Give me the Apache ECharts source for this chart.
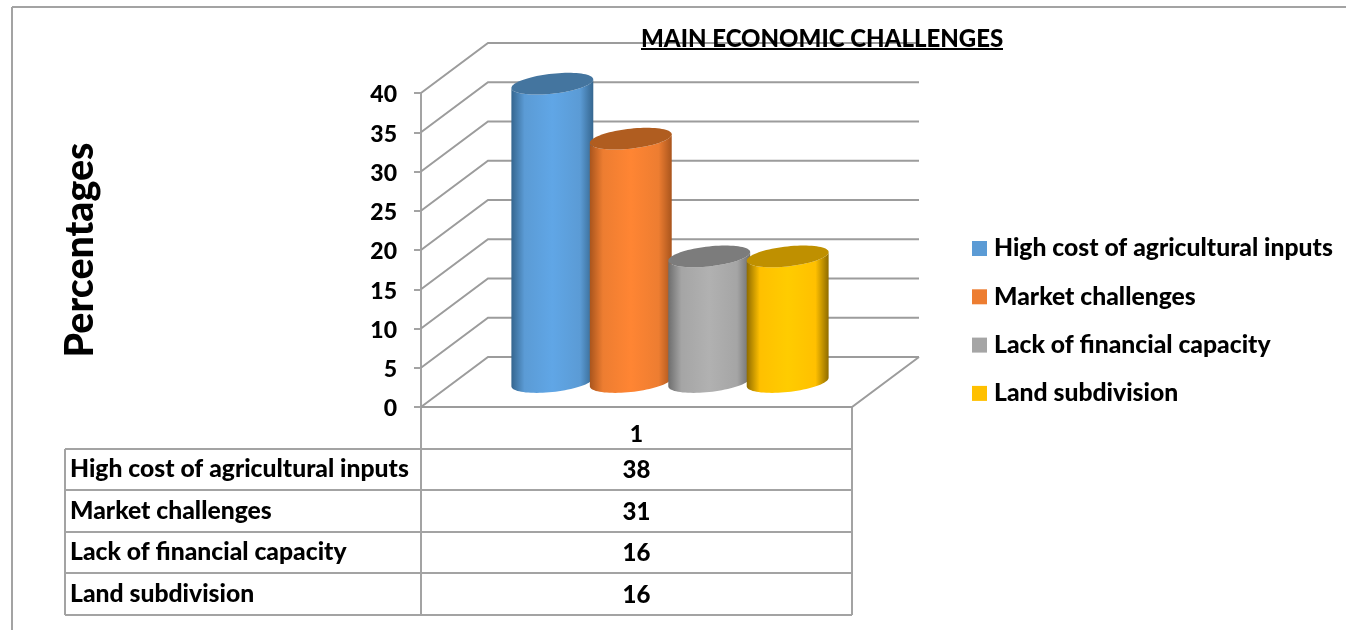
<!DOCTYPE html>
<html>
<head>
<meta charset="utf-8">
<style>html,body{margin:0;padding:0;background:#fff}#main{width:1346px;height:630px}</style>
<script src="https://cdn.jsdelivr.net/npm/echarts@6/dist/echarts.min.js"></script>
</head>
<body>
<div id="main"></div>
<script>
var categories = ['1'];
var seriesNames = ['High cost of agricultural inputs', 'Market challenges', 'Lack of financial capacity', 'Land subdivision'];
var seriesValues = [38, 31, 16, 16];
var yTicks = [0, 5, 10, 15, 20, 25, 30, 35, 40];

var fontName = 'Lato';
var heavy = 900;
var lineColor = '#a3a3a3';
var wallColor = '#9c9c9c';
var depthX = 67, depthY = 50; // 3d depth of the box, px
// legend colour, then edge / middle / cap shades of each cylinder
var shades = [
  ['#5b9bd5', '#35668f', '#60a6e6', '#44759f'],
  ['#ed7d31', '#a9551d', '#ff8533', '#b05d20'],
  ['#a5a5a5', '#6e6e6e', '#b1b1b1', '#7c7c7c'],
  ['#ffc000', '#8f6c00', '#ffcc00', '#bf9000']
];

var chart = echarts.init(document.getElementById('main'));

// back walls and floor
function renderWalls(params, api) {
  var sys = params.coordSys;
  var p = api.coord([0, api.value(1)]);
  var x0 = sys.x, x1 = sys.x + sys.width, y = p[1];
  var kids = [{
    type: 'polyline',
    shape: { points: [[x0, y], [x0 + depthX, y - depthY], [x1 + depthX, y - depthY]] },
    style: { fill: null, stroke: wallColor, lineWidth: 2 }
  }];
  if (api.value(1) === 0) {
    kids.push({
      type: 'polyline',
      shape: { points: [[x1 + depthX, y - depthY], [x1, y], [x0, y]] },
      style: { fill: null, stroke: wallColor, lineWidth: 2 }
    });
  }
  return { type: 'group', children: kids };
}

function cylinder(idx) {
  return function (params, api) {
    var band = api.size([1, 0])[0];
    var step = band * 0.182;
    var a = step * 0.522, b = 10, k = 4.3;
    var top = api.coord([0, api.value(1)]);
    var base = api.coord([0, 0]);
    var cx = top[0] + (idx - 1.5) * step + depthX / 2;
    var yTop = top[1] - depthY / 2, yBase = base[1] - depthY / 2;
    var body = [], cap = [], i, t;
    for (i = 0; i <= 40; i++) {
      t = Math.PI * i / 40;
      body.push([cx + a * Math.cos(t), yBase + b * Math.sin(t) - k * Math.cos(t)]);
    }
    for (i = 40; i >= 0; i--) {
      t = Math.PI * i / 40;
      body.push([cx + a * Math.cos(t), yTop + b * Math.sin(t) - k * Math.cos(t)]);
    }
    for (i = 0; i < 80; i++) {
      t = Math.PI * i / 40;
      cap.push([cx + a * Math.cos(t), yTop + b * Math.sin(t) - k * Math.cos(t)]);
    }
    var s = shades[idx];
    return {
      type: 'group',
      children: [{
        type: 'polygon',
        shape: { points: body },
        style: {
          fill: new echarts.graphic.LinearGradient(0, 0, 1, 0, [
            { offset: 0, color: s[1] },
            { offset: 0.16, color: s[0] },
            { offset: 0.5, color: s[2] },
            { offset: 0.84, color: s[0] },
            { offset: 1, color: s[1] }
          ])
        }
      }, {
        type: 'polygon',
        shape: { points: cap },
        style: { fill: s[3] }
      }]
    };
  };
}

var series = [{
  name: 'walls',
  type: 'custom',
  silent: true,
  renderItem: renderWalls,
  data: yTicks.map(function (v) { return [0, v]; })
}];
seriesNames.forEach(function (name, i) {
  series.push({
    name: name,
    type: 'custom',
    renderItem: cylinder(i),
    itemStyle: { color: shades[i][0] },
    data: [[0, seriesValues[i]]]
  });
});

// data table and page frame under the plot
var tableLeft = 65, tableMid = 421, tableRight = 852, plotBottom = 407;
var rowTops = [449, 490, 532, 573, 615];
var gfx = [];
function hLine(x1, x2, y, w) {
  gfx.push({ type: 'line', shape: { x1: x1, y1: y, x2: x2, y2: y }, style: { stroke: lineColor, lineWidth: w || 2 } });
}
function vLine(x, y1, y2, w) {
  gfx.push({ type: 'line', shape: { x1: x, y1: y1, x2: x, y2: y2 }, style: { stroke: lineColor, lineWidth: w || 2 } });
}
rowTops.forEach(function (y) { hLine(tableLeft, tableRight, y); });
vLine(tableLeft, rowTops[0], rowTops[4]);
vLine(tableMid, plotBottom, rowTops[4]);
vLine(tableRight, plotBottom, rowTops[4]);
seriesNames.forEach(function (name, i) {
  var yc = (rowTops[i] + rowTops[i + 1]) / 2;
  gfx.push({
    type: 'text', x: 70, y: yc,
    style: { text: name, font: heavy + ' 24.7px ' + fontName, fill: '#000', verticalAlign: 'middle' }
  });
  gfx.push({
    type: 'text', x: (tableMid + tableRight) / 2, y: yc + 1,
    style: { text: String(seriesValues[i]), font: heavy + ' 24px ' + fontName, fill: '#000', align: 'center', verticalAlign: 'middle' }
  });
});
hLine(12, 1346, 7);
vLine(12, 7, 630);
gfx.push({ type: 'rect', shape: { x: 641, y: 48, width: 362, height: 2 }, style: { fill: '#000' }, z: 20 });

chart.setOption({
  animation: false,
  title: {
    text: 'MAIN ECONOMIC CHALLENGES',
    left: 641,
    top: 27,
    padding: 0,
    textStyle: { fontFamily: fontName, fontWeight: heavy, fontSize: 24, color: '#000' }
  },
  legend: {
    left: 972,
    top: 236,
    orient: 'vertical',
    icon: 'rect',
    itemWidth: 15,
    itemHeight: 15,
    itemGap: 23.3,
    data: seriesNames,
    selectedMode: false,
    padding: 0,
    textStyle: { fontFamily: fontName, fontWeight: heavy, fontSize: 24.7, color: '#000', padding: [0, 0, 0, 2] }
  },
  grid: { left: 421, top: 93, width: 431, height: 314 },
  xAxis: {
    type: 'category',
    data: categories,
    axisLine: { show: false },
    axisTick: { show: false },
    axisLabel: { margin: 16, fontFamily: fontName, fontWeight: heavy, fontSize: 23, color: '#000' }
  },
  yAxis: {
    type: 'value',
    min: 0,
    max: 40,
    interval: 5,
    name: 'Percentages',
    nameLocation: 'middle',
    nameGap: 321,
    nameTextStyle: { fontFamily: fontName, fontWeight: heavy, fontSize: 39.3, color: '#000' },
    splitLine: { show: false },
    axisLine: { show: true, lineStyle: { color: lineColor, width: 2 } },
    axisTick: { show: true, length: 7, lineStyle: { color: lineColor, width: 2 } },
    axisLabel: {
      margin: 24,
      formatter: '{n|{value}}',
      rich: { n: { padding: [4, 0, 0, 0], fontFamily: fontName, fontWeight: heavy, fontSize: 23, color: '#000' } }
    }
  },
  graphic: { elements: gfx },
  series: series
});
</script>
</body>
</html>
